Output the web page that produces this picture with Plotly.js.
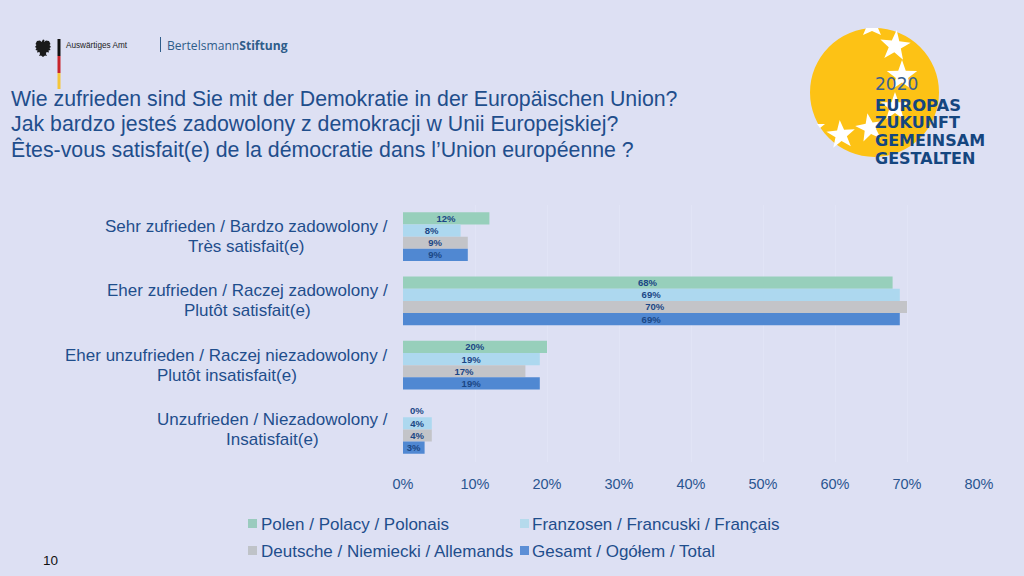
<!DOCTYPE html>
<html><head><meta charset="utf-8">
<script src="https://cdn.plot.ly/plotly-3.0.1.min.js"></script>
<style>html,body{margin:0;padding:0;background:#DDE0F3;overflow:hidden}#c{width:1024px;height:576px}</style>
</head><body><div id="c"></div>
<script>
const categoryKeys = ["Sehr zufrieden","Eher zufrieden","Eher unzufrieden","Unzufrieden"];
const labelLine1 = ["Sehr zufrieden / Bardzo zadowolony /","Eher zufrieden / Raczej zadowolony /","Eher unzufrieden / Raczej niezadowolony /","Unzufrieden / Niezadowolony /"];
const labelLine2 = ["Très satisfait(e)","Plutôt satisfait(e)","Plutôt insatisfait(e)","Insatisfait(e)"];
const polen = [12,68,20,0];
const franzosen = [8,69,19,4];
const deutsche = [9,70,17,4];
const gesamt = [9,69,19,3];
const seriesNames = ["Polen / Polacy / Polonais","Franzosen / Francuski / Français","Deutsche / Niemiecki / Allemands","Gesamt / Ogółem / Total"];
const seriesColors = ["#97CFBB","#ADD8EF","#C3C4C8","#5088D2"];
const swatchColors = ["#9ACBBE","#B5DAEC","#BFC3C8","#5C8FD6"];
const titleLines = ["Wie zufrieden sind Sie mit der Demokratie in der Europäischen Union?","Jak bardzo jesteś zadowolony z demokracji w Unii Europejskiej?","Êtes-vous satisfait(e) de la démocratie dans l’Union européenne ?"];
const xTicks = [0,10,20,30,40,50,60,70,80];
const labelCenters = [246,247.5,226.5,272];

const W=1024,H=576;
const BLUE="#1F4E8C", NAVY="#1B4785";
const FONT="'Liberation Sans', Arial, sans-serif";
const px=x=>x/W, py=y=>1-y/H;
const rectS=(x0,y0,x1,y1,c)=>({type:"rect",xref:"paper",yref:"paper",x0:px(x0),x1:px(x1),y0:py(y0),y1:py(y1),fillcolor:c,line:{width:0},layer:"below"});
const polyS=(pts,c)=>({type:"path",xref:"paper",yref:"paper",path:"M"+pts.map(p=>px(p[0]).toFixed(5)+","+py(p[1]).toFixed(5)).join("L")+"Z",fillcolor:c,line:{width:0},layer:"below"});
const starPts=(cx,cy,r,rot)=>{const o=[];for(let i=0;i<10;i++){const a=(rot-90+i*36)*Math.PI/180,q=i%2?r*0.4:r;o.push([cx+q*Math.cos(a),cy+q*Math.sin(a)]);}return o;};
const txt=(x,y,t,size,color,anchor,family)=>({xref:"paper",yref:"paper",x:px(x),y:py(y),text:t,showarrow:false,xanchor:anchor||"left",yanchor:"middle",align:anchor||"left",font:{family:family||FONT,size:size,color:color},borderpad:0});

const eagle=[[43,39.5],[44.5,40],[44,42],[46,40.5],[49,41],[50.5,44],[49.5,45],[51,47],[49.5,48],[50.5,50],[48.5,50.5],[49,52.5],[46.5,52],[46,54],[47,56],[45,55.5],[43,57],[41,55.5],[39,56],[40,54],[39.5,52],[37,52.5],[37.5,50.5],[35.5,50],[36.5,48],[35,47],[36.5,45],[35.5,44],[37,41],[40,40.5],[41.5,42]];

const shapes=[
  rectS(57.5,39,60.5,56,"#111111"),rectS(57.5,56,60.5,73,"#C8242B"),rectS(57.5,73,60.5,89,"#F4C63A"),
  rectS(160,37,161,52,"#2F5D8A"),
  polyS(eagle,"#1a1a1a"),
  {type:"circle",xref:"paper",yref:"paper",x0:px(810),x1:px(939),y0:py(157),y1:py(28),fillcolor:"#FDC215",line:{width:0},layer:"below"},
  polyS([[866,28],[878,28],[881,35],[872,31],[863,35]],"#FFFFFF"),
  polyS(starPts(895,46,16,6),"#FFFFFF"),
  polyS(starPts(902,76,16,0),"#FFFFFF"),
  polyS(starPts(895,107,15,0),"#FFFFFF"),
  polyS(starPts(870,128,15,-10),"#FFFFFF"),
  polyS(starPts(841,135,15,-5),"#FFFFFF"),
  polyS([[817,124],[825,124],[820,128]],"#FFFFFF"),
  rectS(248,519,257,528,swatchColors[0]),rectS(520,519,529,528,swatchColors[1]),
  rectS(248,546,257,555,swatchColors[2]),rectS(520,546,529,555,swatchColors[3])
];

const annotations=[
  txt(9.5,99,titleLines[0],21.3,BLUE),
  txt(9.5,124,titleLines[1],21.3,BLUE),
  txt(9.5,149.5,titleLines[2],21.3,BLUE),
  txt(65,45,"Auswärtiges Amt",8.2,"#222222"),
  txt(166,45,"Bertelsmann<b>Stiftung</b>",12.1,"#2F5D8A","left","'Open Sans',sans-serif"),
  txt(874,84.5,"2020",17,"#3A6090","left","'DejaVu Sans',sans-serif"),
  txt(874,105.5,"<b>EUROPAS</b>",16.4,"#15467F","left","'DejaVu Sans',sans-serif"),
  txt(874,123,"<b>ZUKUNFT</b>",16,"#15467F","left","'DejaVu Sans',sans-serif"),
  txt(874,141,"<b>GEMEINSAM</b>",16,"#15467F","left","'DejaVu Sans',sans-serif"),
  txt(874,158,"<b>GESTALTEN</b>",16,"#15467F","left","'DejaVu Sans',sans-serif"),
  txt(260,524,seriesNames[0],17,BLUE),
  txt(531,524,seriesNames[1],17,BLUE),
  txt(260,551,seriesNames[2],17,BLUE),
  txt(531,551,seriesNames[3],17,BLUE),
  txt(42,560,"10",13.5,"#111111"),
  {xref:"x",yref:"y",x:2,y:categoryKeys[3],yshift:18.4,text:"<b>"+polen[3]+"%</b>",showarrow:false,font:{family:FONT,size:9.5,color:NAVY}}
];
categoryKeys.forEach((c,i)=>{
  const base={xref:"paper",yref:"y",x:px(labelCenters[i]),y:c,showarrow:false,xanchor:"center",yanchor:"middle",font:{family:FONT,size:17,color:BLUE}};
  annotations.push(Object.assign({},base,{text:labelLine1[i],yshift:10}));
  annotations.push(Object.assign({},base,{text:labelLine2[i],yshift:-10}));
});

const mk=(i,vals)=>({type:"bar",orientation:"h",name:seriesNames[i],y:categoryKeys,x:vals,
  marker:{color:seriesColors[i]},
  text:vals.map(v=>v>0?"<b>"+v+"%</b>":""),textposition:"inside",insidetextanchor:"middle",constraintext:"none",textangle:0,
  textfont:{family:FONT,size:9.5,color:NAVY},hoverinfo:"skip",cliponaxis:false});
const data=[mk(0,polen),mk(1,franzosen),mk(2,deutsche),mk(3,gesamt)];

const layout={width:W,height:H,margin:{l:0,r:0,t:0,b:0},paper_bgcolor:"#DDE0F3",plot_bgcolor:"rgba(0,0,0,0)",
  showlegend:false,barmode:"group",bargap:0.24,bargroupgap:0,
  xaxis:{domain:[403/W,979/W],range:[0,80],anchor:"y",tickmode:"array",tickvals:xTicks,ticktext:xTicks.map(v=>v+"%"),
    tickfont:{family:FONT,size:14.5,color:"#2A5590"},showgrid:true,gridcolor:"#E1E4F6",gridwidth:1,zeroline:false,showline:false,ticks:"",ticklen:0,automargin:false,ticklabelstandoff:12},
  yaxis:{domain:[1-461.5/H,1-204.5/H],type:"category",autorange:"reversed",showticklabels:false,showgrid:false,zeroline:false,showline:false,ticks:"",automargin:false},
  shapes:shapes,annotations:annotations};
Plotly.newPlot("c",data,layout,{displayModeBar:false,staticPlot:true});
</script></body></html>
